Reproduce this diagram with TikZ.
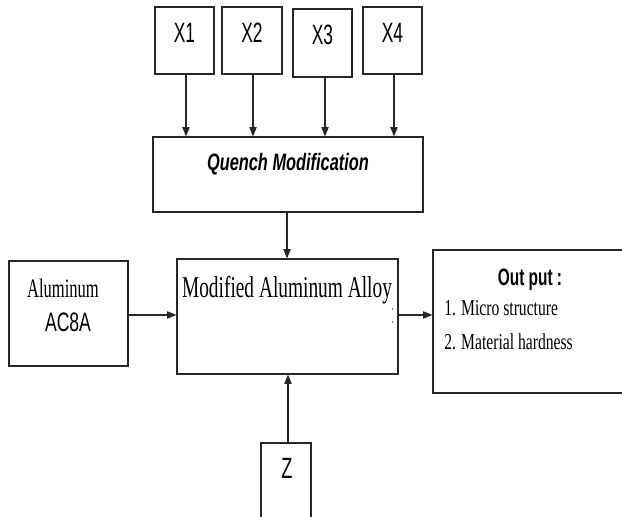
\documentclass[tikz,border=0pt]{standalone}
\usepackage{fontspec}
\setmainfont{Liberation Serif}
\setsansfont{Liberation Sans}
\usetikzlibrary{fit,arrows.meta}
\newcommand{\sq}[2][0.65]{\scalebox{#1}[1]{#2}}
\begin{document}
\begin{tikzpicture}[x=0.75pt,y=-0.75pt,
  box/.style={draw=black!85,line width=0.9pt,inner sep=0pt,fill=none},
  arr/.style={draw=black!85,line width=0.8pt,-{Triangle[length=7pt,width=5.5pt]}},
  lbl/.style={inner sep=0pt,anchor=center}]
\useasboundingbox (0,0) rectangle (622,517);
\clip (0,0) rectangle (622,517);
% boxes
\node[box,fit={(155,7) (214,74)}] (x1) {};
\node[box,fit={(222,7) (282,74)}] (x2) {};
\node[box,fit={(293,9) (352,77)}] (x3) {};
\node[box,fit={(363,7) (422,74)}] (x4) {};
\node[box,fit={(153,137) (423,212)}] (q) {};
\node[box,fit={(177,259) (398,374)}] (m) {};
\node[box,fit={(9,261) (128,366)}] (al) {};
\node[box,fit={(433,250) (640,393)}] (out) {};
\node[box,fit={(261,443) (311,540)}] (z) {};
% texts
\node[lbl,font=\sffamily\fontsize{21}{24}\selectfont] (tx1) at (184.5,33) {\sq[0.62]{X1}};
\node[lbl,font=\sffamily\fontsize{21}{24}\selectfont] (tx2) at (252,33) {\sq[0.62]{X2}};
\node[lbl,font=\sffamily\fontsize{21}{24}\selectfont] (tx3) at (322.5,35) {\sq[0.62]{X3}};
\node[lbl,font=\sffamily\fontsize{21}{24}\selectfont] (tx4) at (392.5,33) {\sq[0.62]{X4}};
\node[lbl,font=\sffamily\bfseries\itshape\fontsize{17.8}{20}\selectfont] (tq) at (288,164) {\sq[0.69]{Quench Modification}};
\node[lbl,font=\rmfamily\fontsize{22.7}{26}\selectfont,anchor=base] (tm) at (287,297) {\sq[0.64]{Modified Aluminum Alloy}};
\node[lbl,font=\rmfamily\fontsize{20}{24}\selectfont,anchor=base] (tal) at (63,297) {\sq[0.62]{Aluminum}};
\node[lbl,font=\sffamily\fontsize{20}{24}\selectfont,anchor=base] (tac) at (68,331) {\sq[0.66]{AC8A}};
\node[lbl,font=\sffamily\bfseries\fontsize{17.8}{20}\selectfont,anchor=base] (to) at (530,285) {\sq[0.65]{Out put :}};
\node[lbl,font=\rmfamily\fontsize{17}{20}\selectfont,anchor=base west] (to1) at (444,315) {\sq[0.69]{1. Micro structure}};
\node[lbl,font=\rmfamily\fontsize{17}{20}\selectfont,anchor=base west] (to2) at (444,349) {\sq[0.69]{2. Material hardness}};
\node[lbl,font=\sffamily\fontsize{22}{24}\selectfont] (tz) at (287,468) {\sq[0.62]{Z}};
% small marks
\draw[black!50,line width=0.6pt] (392,308) -- (392,310) (392,321) -- (392,323);
% arrows
\draw[arr] (x1.south -| 186,0) -- (186,0 |- q.north);
\draw[arr] (x2.south -| 253,0) -- (253,0 |- q.north);
\draw[arr] (x3.south -| 325,0) -- (325,0 |- q.north);
\draw[arr] (x4.south -| 394,0) -- (394,0 |- q.north);
\draw[arr] (q.south -| 287,0) -- (287,0 |- m.north);
\draw[arr] (al.east |- 0,315) -- (m.west |- 0,315);
\draw[arr] (m.east |- 0,315) -- (out.west |- 0,315);
\draw[arr] (z.north -| 288,0) -- (288,0 |- m.south);
\end{tikzpicture}
\end{document}
